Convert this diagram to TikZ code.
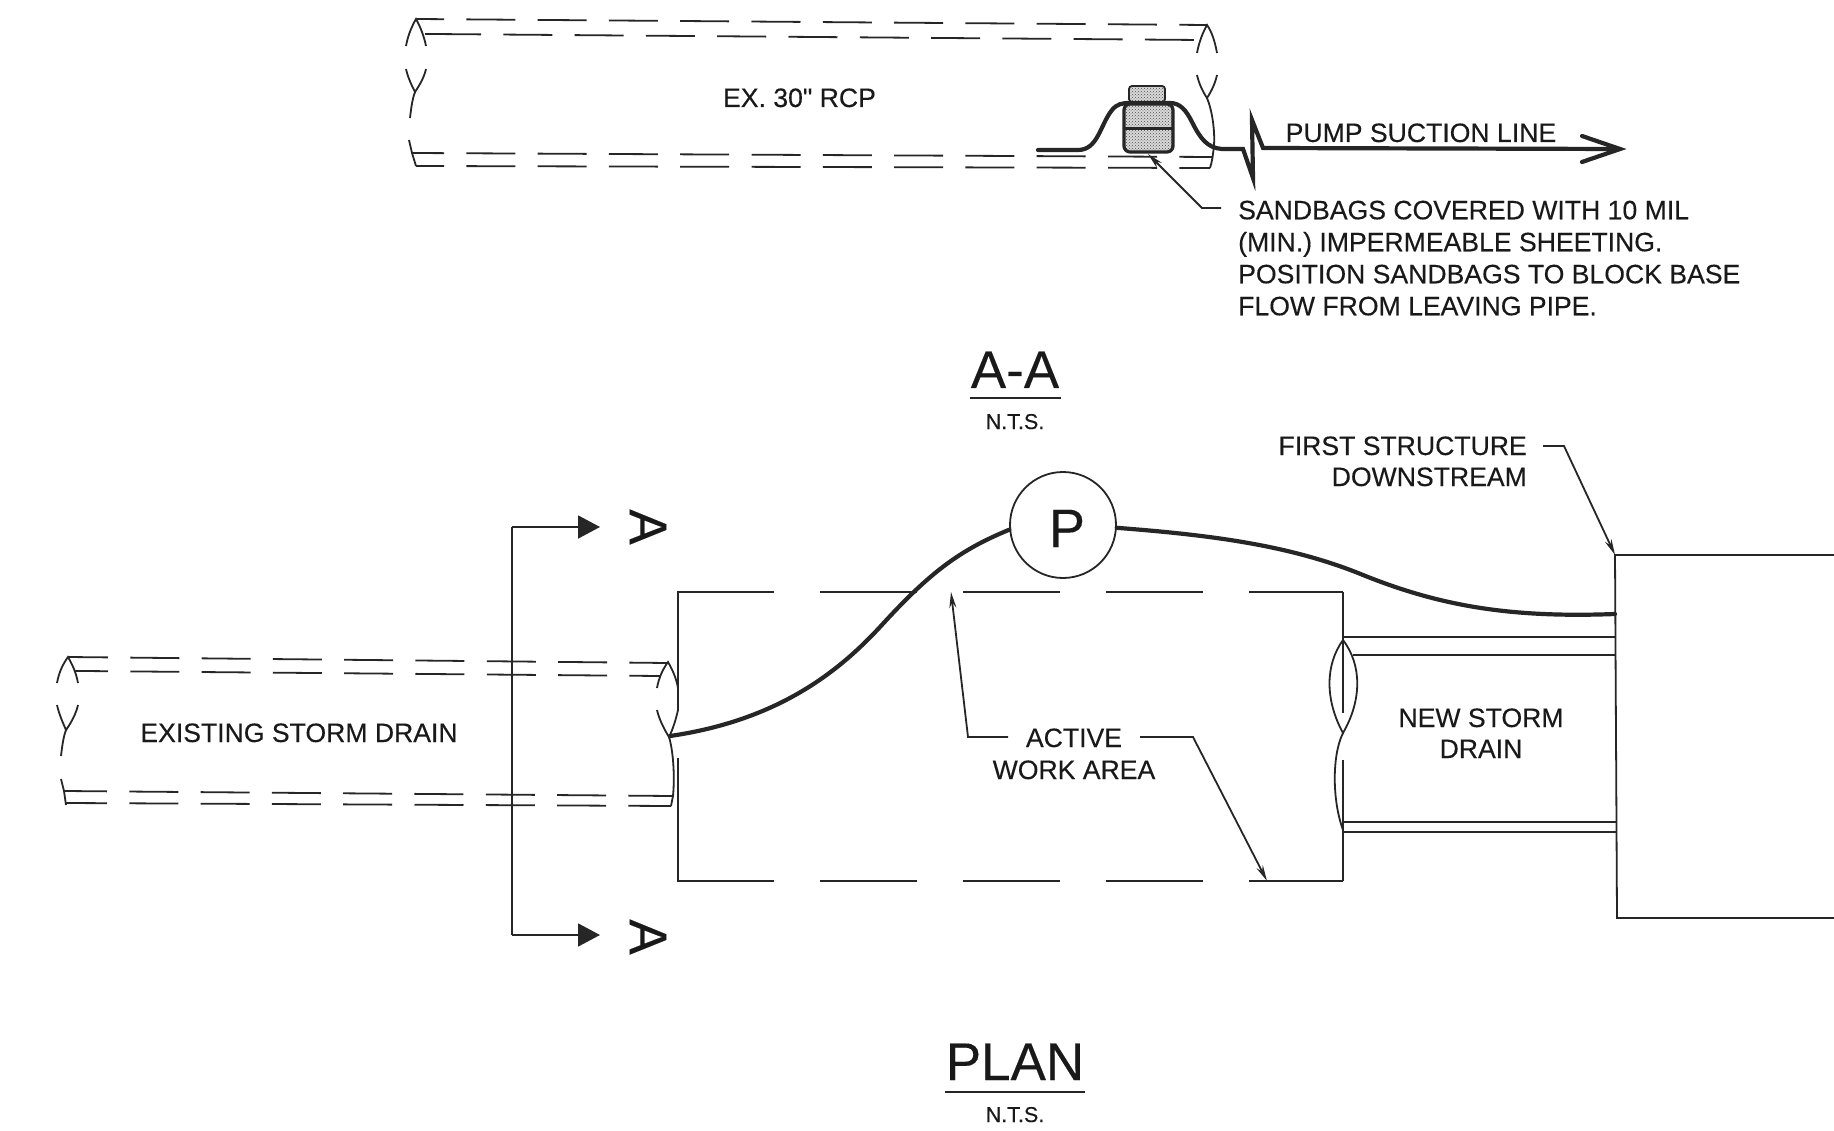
\documentclass[tikz,border=0pt]{standalone}
\usepackage{fontspec}
\setmainfont{Liberation Sans}
\newfontfamily\inkfont{Liberation Sans}[FakeBold=0.25]
\usetikzlibrary{arrows.meta,patterns}
\tikzset{
  x=1pt,y=-1pt,
  thinl/.style={line width=1.8pt,draw=black!85},
  thick pipe/.style={line width=4.2pt,draw=black!85,line cap=round},
  pipedash/.style={thinl,dash pattern=on 49pt off 22.3pt},
  boxdash/.style={thinl,dash pattern=on 96.5pt off 46.6pt},
  lbl/.style={font=\inkfont\fontsize{26.6}{32}\selectfont,inner sep=0pt,text=black!90},
  title/.style={font=\inkfont\fontsize{53}{60}\selectfont,inner sep=0pt,text=black!90},
  nts/.style={font=\inkfont\fontsize{21.5}{26}\selectfont,inner sep=0pt,text=black!90},
  leader/.style={thinl,-{Stealth[length=16pt,width=7pt]}},
  secarrow/.style={thinl,-{Triangle[length=22pt,width=23pt]}},
  bag/.style={pattern=crosshatch dots,pattern color=black!70,preaction={fill=gray!30}},
}
\begin{document}
\begin{tikzpicture}
\useasboundingbox (0,0) rectangle (1834,1131);
\fill[white] (0,0) rectangle (1834,1131);

% ---------- section A-A pipe
\draw[pipedash,dash phase=22pt] (417,19) -- (1207,25);
\draw[thinl] (425,34) -- (432,34);
\draw[pipedash] (432,34) -- (1200,40);
\draw[pipedash,dash phase=17pt] (412,153) -- (1213,157);
\draw[pipedash,dash phase=21pt] (416,166) -- (1210,168);
% left break
\draw[thinl] (406,46) .. controls (408,35) and (412,26) .. (416,19) .. controls (420,26) and (424,36) .. (426,46);
\draw[thinl] (406,69) .. controls (408,78) and (412,86) .. (415,92) .. controls (419,86) and (424,78) .. (426,69);
\draw[thinl] (415,92) .. controls (412,100) and (411,110) .. (410,118);
\draw[thinl] (409,140) -- (412,153) -- (416,166);
% right break
\draw[thinl] (1197,53) .. controls (1199,42) and (1203,32) .. (1207,25) .. controls (1212,32) and (1215,42) .. (1217,53);
\draw[thinl] (1197,75) .. controls (1199,84) and (1203,92) .. (1207,98) .. controls (1211,92) and (1215,84) .. (1217,75);
\draw[thinl] (1207,98) .. controls (1212,110) and (1215,130) .. (1214,145) .. controls (1213,155) and (1212,162) .. (1210,168);

\node[lbl,anchor=base] (excp) at (799.5,107) {EX. 30" RCP};

% sandbags
\draw[thinl,bag,rounded corners=3pt] (1129,86) rectangle (1165,102);
\draw[line width=3.2pt,draw=black!85,bag,rounded corners=6pt] (1124,104) rectangle (1173,152);
\draw[line width=3pt,draw=black!85] (1124,129) -- (1173,129);

% pump suction line
\coordinate (ps0) at (1038,150);
\coordinate (ps1) at (1620,149);
\draw[thick pipe,line join=miter] (ps0) -- (1078,150) .. controls (1098,150) and (1100,125) .. (1112,110) .. controls (1117,104) and (1122,103) .. (1130,103) -- (1170,103) .. controls (1180,103) and (1186,110) .. (1192,122) .. controls (1200,138) and (1207,148) .. (1222,149) -- (1243,149) -- (1253,178) -- (1252,120) -- (1263,148) -- (ps1);
\draw[thick pipe,line join=miter] (1582,136) -- (ps1) -- (1582,162);
\node[lbl,anchor=base west] (pump) at (1285.5,142) {PUMP SUCTION LINE};

% sandbag note
\node[lbl,anchor=north west,align=left] (note) at (1238,200.5) {SANDBAGS COVERED WITH 10 MIL\\(MIN.) IMPERMEABLE SHEETING.\\POSITION SANDBAGS TO BLOCK BASE\\FLOW FROM LEAVING PIPE.};
\coordinate (nt0) at (1221,208);
\coordinate (nt1) at (1148,154);
\draw[leader] (nt0) -- (1202,208) -- (nt1);

% titles
\node[title,anchor=base] (aa) at (1015,388) {A-A};
\draw[thinl] (970,398) -- (1061,398);
\node[nts,anchor=base] (aants) at (1015,429) {N.T.S.};
\node[title,anchor=base] (plan) at (1015,1080) {PLAN};
\draw[thinl] (945,1092) -- (1085,1092);
\node[nts,anchor=base] (plannts) at (1015,1122) {N.T.S.};

% ---------- plan: existing storm drain
\draw[pipedash,dash phase=9pt] (68,657) -- (668,663);
\draw[thinl] (75,671) -- (83,671);
\draw[pipedash,dash phase=24pt] (83,671) -- (660,676);
\draw[pipedash,dash phase=6pt] (64,791) -- (672,796);
\draw[pipedash,dash phase=8pt] (66,803) -- (671,806);
\draw[thinl] (57,683) .. controls (59,672) and (63,664) .. (68,657) .. controls (72,664) and (76,672) .. (78,683);
\draw[thinl] (57,705) .. controls (59,714) and (63,723) .. (66,730) .. controls (71,723) and (76,714) .. (78,705);
\draw[thinl] (66,730) .. controls (63,738) and (62,748) .. (61,756);
\draw[thinl] (61,779) -- (64,791) -- (66,805);
\draw[thinl] (657,688) .. controls (659,677) and (663,669) .. (668,662) .. controls (672,669) and (676,677) .. (678,688);
\draw[thinl] (657,710) .. controls (659,719) and (664,729) .. (669,737) .. controls (673,729) and (676,719) .. (678,710) -- (678,688);
\draw[thinl] (669,737) .. controls (673,750) and (675,775) .. (673,796) -- (671,806);
\node[lbl,anchor=base] (esd) at (299,742) {EXISTING STORM DRAIN};

% section line
\coordinate (sa) at (600,527);
\coordinate (sb) at (600,935);
\draw[secarrow] (512,527) -- (sa);
\draw[secarrow] (512,935) -- (sb);
\draw[thinl] (512,527) -- (512,935);
\node[title,rotate=-90,anchor=center] (a1) at (648,527) {A};
\node[title,rotate=-90,anchor=center] (a2) at (648,937) {A};

% active work area box
\draw[boxdash] (677,592) -- (1343,592);
\draw[boxdash] (677,881) -- (1343,881);
\draw[thinl] (678,592) -- (678,688);
\draw[thinl] (678,758) -- (678,881);
\draw[thinl] (1343,592) -- (1343,713);
\draw[thinl] (1343,760) -- (1343,881);

% new storm drain
\draw[thinl] (1343,637) -- (1616,637);
\draw[thinl] (1353,655) -- (1616,655);
\draw[thinl] (1343,822) -- (1617,822);
\draw[thinl] (1343,832) -- (1617,832);
\draw[thinl] (1343,640) .. controls (1325,665) and (1325,700) .. (1343,733) .. controls (1362,700) and (1362,665) .. (1343,640);
\draw[thinl] (1343,733) .. controls (1332,755) and (1332,800) .. (1343,830);
\node[lbl,anchor=base] (nsd1) at (1481,727) {NEW STORM};
\node[lbl,anchor=base] (nsd2) at (1481,758) {DRAIN};

% structure
\draw[thinl] (1834,555) -- (1615,555) -- (1617,918) -- (1834,918);
\node[lbl,anchor=base east] (fs1) at (1527,455) {FIRST STRUCTURE};
\node[lbl,anchor=base east] (fs2) at (1527,486) {DOWNSTREAM};
\coordinate (fs0) at (1543,446);
\coordinate (fs9) at (1615,555);
\draw[leader] (fs0) -- (1564,446) -- (fs9);

% active work area label
\node[lbl,anchor=base] (awa1) at (1074,747) {ACTIVE};
\node[lbl,anchor=base] (awa2) at (1074,779) {WORK AREA};
\coordinate (aw0) at (1008,737);
\coordinate (aw1) at (951,592);
\coordinate (aw2) at (1140,737);
\coordinate (aw3) at (1267,881);
\draw[leader] (aw0) -- (968,737) -- (aw1);
\draw[leader] (aw2) -- (1193,737) -- (aw3);

% pump
\node[draw=black!85,line width=1.8pt,circle,minimum size=106pt,inner sep=0pt] (P) at (1063,525) {};
\node[font=\inkfont\fontsize{54}{60}\selectfont,text=black!90,inner sep=0pt,anchor=base] (Pl) at (1067,547) {P};
\coordinate (dis) at (1615,614);
\coordinate (suc) at (670,736);
\draw[thick pipe] (suc) .. controls (780,720) and (840,670) .. (880,627) .. controls (930,572) and (960,550) .. (P.185);
\draw[thick pipe] (P.-3) .. controls (1210,535) and (1290,545) .. (1363,575) .. controls (1440,606) and (1510,618) .. (dis);
\end{tikzpicture}
\end{document}
